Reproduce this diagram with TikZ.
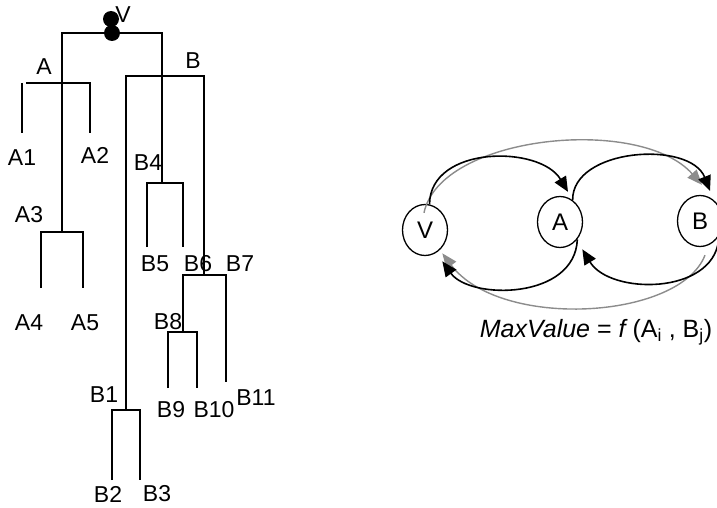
\documentclass[tikz,border=0pt]{standalone}
\usepackage{fontspec}
\setmainfont{Liberation Sans}
\usetikzlibrary{shapes.geometric,arrows.meta}

\begin{document}
\begin{tikzpicture}[x=1pt,y=-1pt,
  lbl/.style={font=\fontsize{23}{26}\selectfont, inner sep=0pt},
  br/.style={line width=1.4pt},
  dot/.style={circle, fill=black, minimum size=16pt, inner sep=0pt},
  state/.style={ellipse, draw, line width=1.3pt, minimum width=45pt,
    minimum height=51pt, inner sep=0pt, font=\fontsize{24}{27}\selectfont},
  blk/.style={line width=1.6pt, -{Triangle[length=15pt,width=13pt]}},
  gry/.style={line width=1.4pt, draw=gray!90,
    -{Triangle[length=15pt,width=12pt,fill=gray!90]}},
]
\useasboundingbox (0,0) rectangle (717,508);

% ---------- search tree ----------
\node[lbl] (lV) at (123,15) {V};
\node[dot] (top1) at (111,19) {};
\node[dot] (top2) at (112,33) {};

\node[lbl] (lA)   at (44,67)   {A};
\node[lbl] (lA1)  at (22,158)  {A1};
\node[lbl] (lA2)  at (95,155)  {A2};
\node[lbl] (lA3)  at (29,215)  {A3};
\node[lbl] (lA4)  at (29,323)  {A4};
\node[lbl] (lA5)  at (85,323)  {A5};
\node[lbl] (lB)   at (193,61)  {B};
\node[lbl] (lB1)  at (104,395) {B1};
\node[lbl] (lB2)  at (108,494) {B2};
\node[lbl] (lB3)  at (157,494) {B3};
\node[lbl] (lB4)  at (148,163) {B4};
\node[lbl] (lB5)  at (155,264) {B5};
\node[lbl] (lB6)  at (198,264) {B6};
\node[lbl] (lB7)  at (240,264) {B7};
\node[lbl] (lB8)  at (168,322) {B8};
\node[lbl] (lB9)  at (171,410) {B9};
\node[lbl] (lB10) at (214,410) {B10};
\node[lbl] (lB11) at (256,398) {B11};

% root bar and the two trunks
\draw[br] (62,232) -- (62,33) -- (162,33) -- (162,183);
% A subtree
\draw[br] (26,83) -- (90,83) -- (90,133);
\draw[br] (22,83) -- (22,133);
\draw[br] (41,288) -- (41,232) -- (83,232) -- (83,288);
% B4 subtree
\draw[br] (147,247) -- (147,183) -- (183,183) -- (183,247);
% B subtree
\draw[br] (126,410) -- (126,76) -- (204,76) -- (204,275);
\draw[br] (112,480) -- (112,410) -- (140,410) -- (140,480);
\draw[br] (183,332) -- (183,275) -- (226,275) -- (226,382);
\draw[br] (168,388) -- (168,332) -- (197,332) -- (197,388);

% ---------- state diagram ----------
\node[state] (V) at (425,230) {V};
\node[state] (A) at (560,222) {A};
\node[state] (B) at (700,221) {B};

\draw[gry] ([shift={(-1pt,-9pt)}]V.north)
  .. controls (440,135) and (640,115) .. ([shift={(2pt,10pt)}]B.north);
\draw[gry] ([shift={(5pt,-8pt)}]B.south)
  .. controls (680,320) and (500,330) .. ([shift={(0pt,-6pt)}]V.-45);

\draw[blk] (V.80)
  .. controls (430,145) and (540,145) .. ([shift={(8pt,4pt)}]A.north);
\draw[blk] (A.60)
  .. controls (572,148) and (690,140) .. ([shift={(10pt,4pt)}]B.north);
\draw[blk] ([shift={(0pt,-4pt)}]B.-40)
  .. controls (712,295) and (610,295) .. ([shift={(5pt,-10pt)}]A.-45);
\draw[blk] (A.-45)
  .. controls (575,300) and (470,300) .. ([shift={(0pt,-14pt)}]V.-45);

\node[font=\fontsize{25}{28}\selectfont, inner sep=0pt] (mv) at (596,332)
  {\itshape MaxValue\upshape{} = \itshape f\upshape{} (A\textsubscript{i} , B\textsubscript{j})};
\end{tikzpicture}
\end{document}
